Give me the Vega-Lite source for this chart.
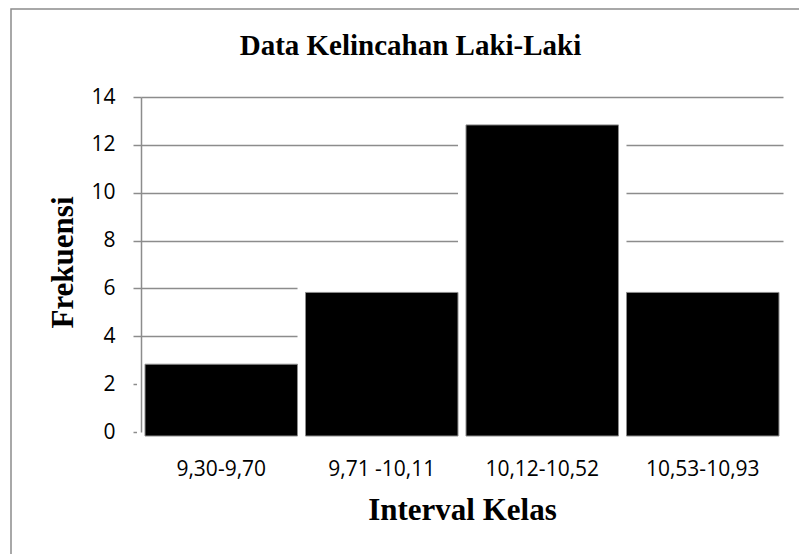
{
  "$schema": "https://vega.github.io/schema/vega-lite/v6.json",
  "autosize": {"type": "none"},
  "padding": {"left": 11, "top": 9, "right": 0, "bottom": 0},
  "width": 799,
  "height": 560,
  "background": "white",
  "config": {
    "view": {"stroke": "#8c8c8c", "strokeWidth": 1.5},
    "axis": {
      "domainColor": "#8c8c8c",
      "domainWidth": 1.5,
      "tickColor": "#8c8c8c",
      "tickWidth": 1.5,
      "gridColor": "#8c8c8c",
      "gridWidth": 1.5,
      "gridOpacity": 1,
      "labelColor": "black",
      "titleColor": "black",
      "labelFont": "Open Sans",
      "labelFontSize": 21,
      "titleFont": "Liberation Serif",
      "titleFontWeight": "bold"
    }
  },
  "title": {
    "text": "Data Kelincahan Laki-Laki",
    "font": "Liberation Serif",
    "fontSize": 29,
    "fontWeight": "bold",
    "color": "black",
    "anchor": "middle",
    "frame": "group",
    "baseline": "alphabetic",
    "offset": -75
  },
  "data": {
    "values": [
      {"interval": "9,30-9,70", "frekuensi": 3},
      {"interval": "9,71 -10,11", "frekuensi": 6},
      {"interval": "10,12-10,52", "frekuensi": 13},
      {"interval": "10,53-10,93", "frekuensi": 6}
    ]
  },
  "encoding": {
    "x": {
      "field": "interval",
      "type": "nominal",
      "sort": null,
      "scale": {"range": [130, 772], "paddingInner": 0.05, "paddingOuter": 0.025},
      "axis": {
        "title": "Interval Kelas",
        "titleFontSize": 31,
        "titleX": 451,
        "titleY": 87,
        "titleBaseline": "alphabetic",
        "titleAnchor": null,
        "titleAlign": "center",
        "offset": -137,
        "ticks": false,
        "labelAngle": 0,
        "labelPadding": 26,
        "grid": false
      }
    }
  },
  "layer": [
    {
      "mark": {
        "type": "bar",
        "color": "white",
        "stroke": "white",
        "strokeWidth": 16,
        "yOffset": 4,
        "y2Offset": -10
      },
      "encoding": {
        "y": {
          "field": "frekuensi",
          "type": "quantitative",
          "scale": {"domain": [0, 14], "range": [423, 88], "nice": false, "zero": true},
          "axis": {
            "orient": "left",
            "title": "Frekuensi",
            "titleFontSize": 31,
            "titleAngle": -90,
            "titleX": -69,
            "titleY": 253,
            "titleBaseline": "alphabetic",
            "titleAlign": "center",
            "titleAnchor": null,
            "offset": -130,
            "values": [0, 2, 4, 6, 8, 10, 12, 14],
            "tickSize": 8,
            "labelPadding": 18,
            "domain": false,
            "grid": true,
            "zindex": 0
          }
        }
      }
    },
    {
      "mark": {
        "type": "bar",
        "color": "black",
        "stroke": "#8c8c8c",
        "strokeWidth": 1,
        "yOffset": 4,
        "y2Offset": -4
      },
      "encoding": {
        "y": {
          "field": "frekuensi",
          "type": "quantitative",
          "scale": {"domain": [0, 14], "range": [423, 88], "nice": false, "zero": true},
          "axis": {
            "orient": "left",
            "title": null,
            "offset": -130,
            "values": [0, 2, 4, 6, 8, 10, 12, 14],
            "labels": false,
            "ticks": false,
            "domain": true,
            "grid": false,
            "zindex": 1
          }
        }
      }
    }
  ],
  "resolve": {"scale": {"y": "independent"}, "axis": {"y": "independent"}}
}
